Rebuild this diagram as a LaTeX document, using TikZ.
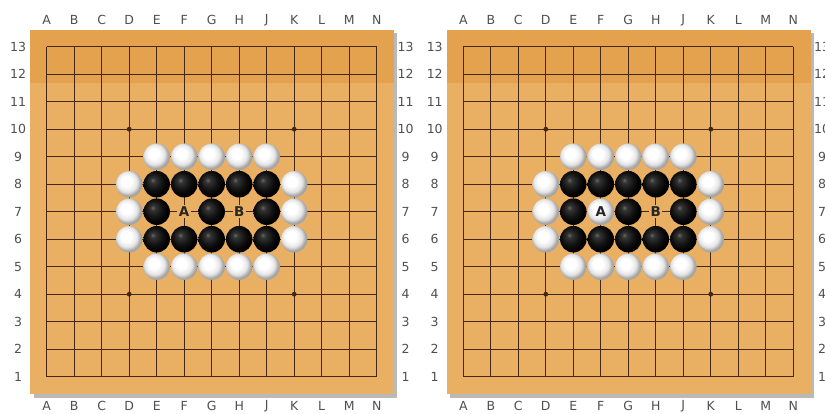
\documentclass[tikz,border=0pt]{standalone}
\usepackage{fontspec}
\setmainfont{DejaVu Sans}
\usepackage{xcolor}
\definecolor{boardwood}{RGB}{233,175,98}
\definecolor{boardband}{RGB}{229,162,78}
\definecolor{gridline}{RGB}{68,40,20}
\definecolor{axisgray}{RGB}{80,80,80}
\definecolor{boardshadow}{RGB}{185,185,185}
\pgfdeclareradialshading{whitestone}{\pgfpoint{-7bp}{7bp}}{color(0bp)=(white); color(10bp)=(white); color(19bp)=(black!10); color(25bp)=(black!35); color(50bp)=(black!45)}
\pgfdeclareradialshading{blackstone}{\pgfpoint{-8bp}{8bp}}{color(0bp)=(black!60); color(5bp)=(black!80); color(16bp)=(black!93); color(25bp)=(black); color(50bp)=(black)}

\begin{document}
\begin{tikzpicture}[
    x=1pt, y=-1pt,
    wstone/.style={circle, minimum size=26.5pt, inner sep=0pt, shading=whitestone},
    bstone/.style={circle, minimum size=26.5pt, inner sep=0pt, shading=blackstone},
    emptypt/.style={inner sep=0pt, minimum size=0pt},
    axislabel/.style={font=\fontsize{12.5}{14}\selectfont, text=axisgray},
    stonelabel/.style={font=\fontsize{13.5}{15}\selectfont\bfseries, text=black!85, inner sep=1.5pt},
    openlabel/.style={stonelabel, fill=boardwood},
    gridln/.style={draw=gridline, line width=0.9pt}
]
\useasboundingbox (0,0) rectangle (825,414);
\fill[white] (0,0) rectangle (825,414);

\foreach \bx/\bn/\astone/\alabel in {46.7/L/emptypt/openlabel, 463.3/R/wstone/stonelabel}{
\begin{scope}[shift={(\bx,46.7)}, x=27.5pt, y=-27.5pt]
  % board and its shadow
  \fill[boardshadow] (-0.48,-0.48) rectangle (12.75,12.76);
  \fill[boardwood] (-0.6,-0.6) rectangle (12.64,12.64);
  \fill[boardband] (-0.6,-0.6) rectangle (12.64,1.32);
  % lines
  \foreach \i in {0,...,12}{
    \draw[gridln] (\i,0) -- (\i,12);
    \draw[gridln] (0,\i) -- (12,\i);
  }
  \foreach \col/\k in {3/3, 9/3, 3/9, 9/9}
    \fill[gridline] (\col,\k) circle[radius=2.4pt];
  % coordinates
  \foreach \col [count=\i from 0] in {A,B,C,D,E,F,G,H,J,K,L,M,N}{
    \node[axislabel] (\bn-top-\col) at (\i,-0.97) {\col};
    \node[axislabel] (\bn-bot-\col) at (\i,13.07) {\col};
  }
  \foreach \r in {1,...,13}{
    \node[axislabel] (\bn-left-\r) at (-1.04,{13-\r}) {\r};
    \node[axislabel] (\bn-right-\r) at (13.05,{13-\r}) {\r};
  }
  % stones
  \foreach \col in {4,...,8}{
    \node[wstone] (\bn-w\col-9) at (\col,4) {};
    \node[wstone] (\bn-w\col-5) at (\col,8) {};
    \node[bstone] (\bn-b\col-8) at (\col,5) {};
    \node[bstone] (\bn-b\col-6) at (\col,7) {};
  }
  \foreach \k in {5,6,7}{
    \node[wstone] (\bn-w3-\k) at (3,\k) {};
    \node[wstone] (\bn-w9-\k) at (9,\k) {};
  }
  \foreach \col in {4,6,8}
    \node[bstone] (\bn-b\col-7) at (\col,6) {};
  % marked points
  \node[\astone] (\bn-F7) at (5,6) {};
  \node[\alabel] (\bn-A) at (\bn-F7) {A};
  \node[openlabel] (\bn-B) at (7,6) {B};
\end{scope}
}
\end{tikzpicture}
\end{document}
